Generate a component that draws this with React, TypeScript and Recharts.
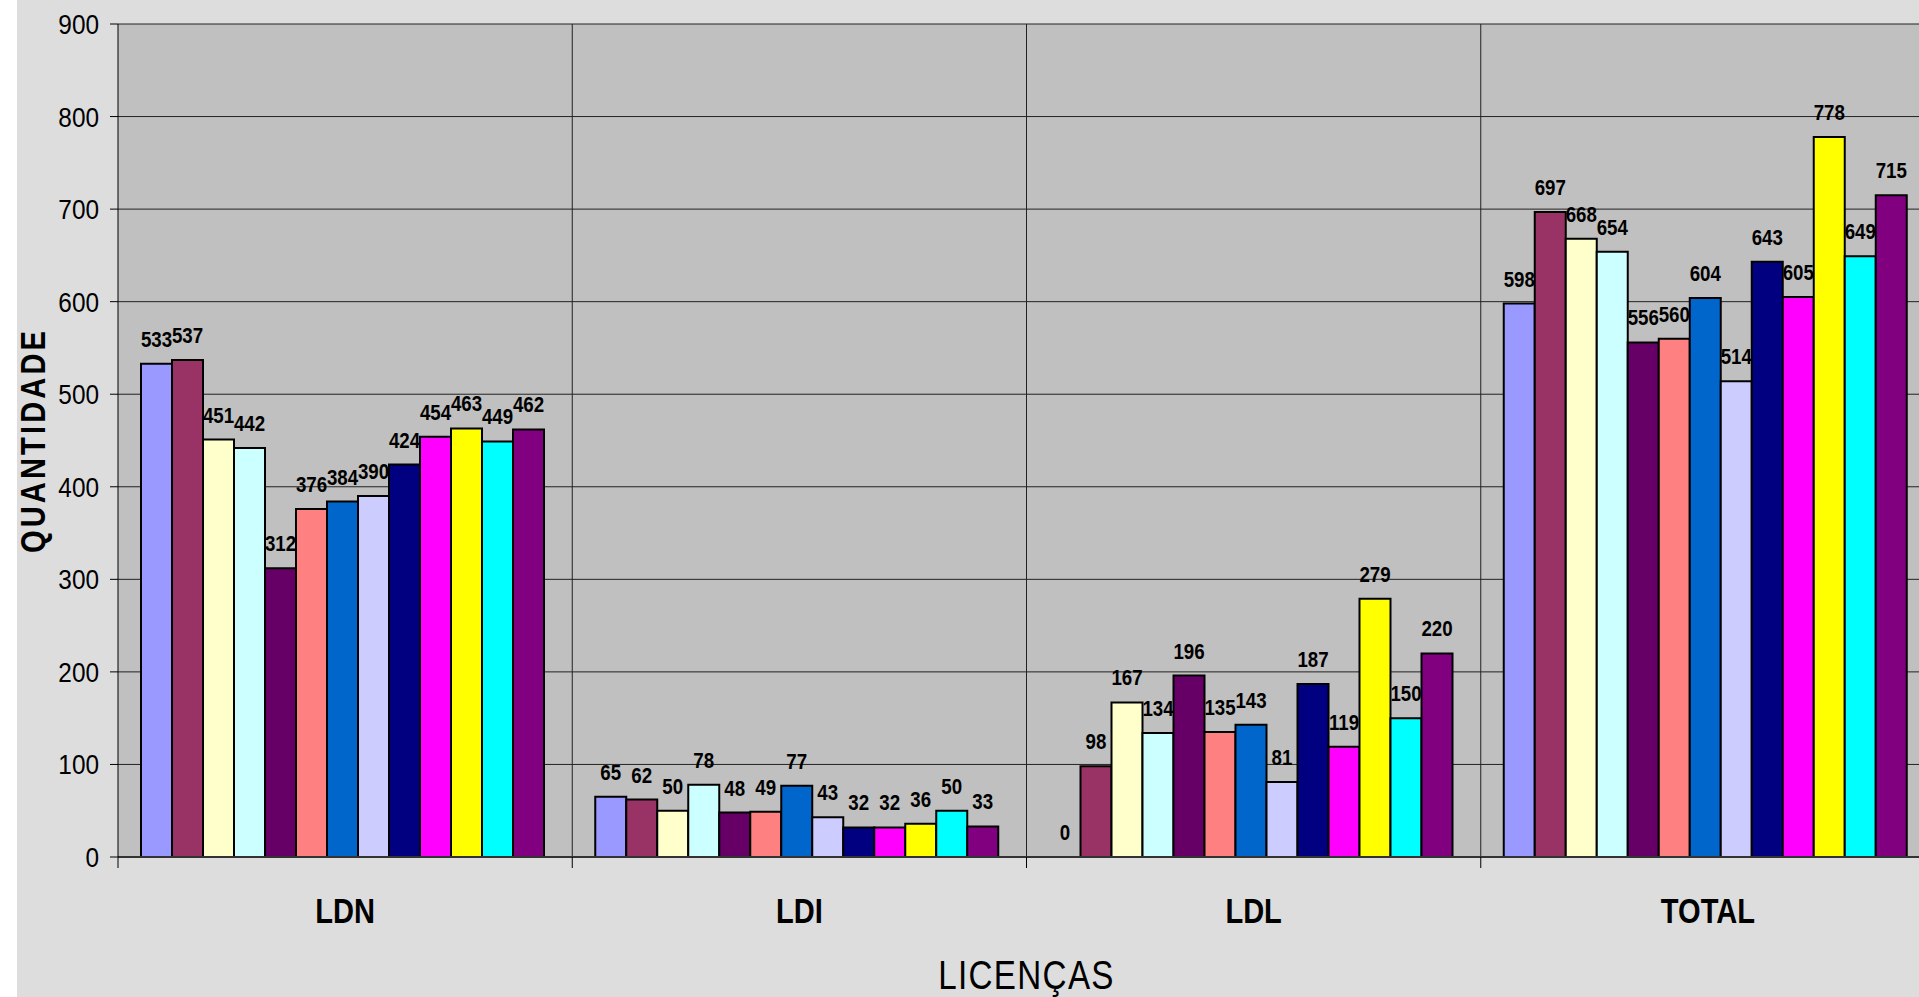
import { BarChart, Bar, XAxis, YAxis, CartesianGrid, LabelList } from "recharts";

// categories on the x axis
const categories = ["LDN", "LDI", "LDL", "TOTAL"];

// values per category, 13 series each (left to right)
const ldnValues = [533, 537, 451, 442, 312, 376, 384, 390, 424, 454, 463, 449, 462];
const ldiValues = [65, 62, 50, 78, 48, 49, 77, 43, 32, 32, 36, 50, 33];
const ldlValues = [0, 98, 167, 134, 196, 135, 143, 81, 187, 119, 279, 150, 220];
const totalValues = [598, 697, 668, 654, 556, 560, 604, 514, 643, 605, 778, 649, 715];

const yTicks = [0, 100, 200, 300, 400, 500, 600, 700, 800, 900];

// classic Excel palette
const seriesColors = [
  "#9999FF", "#993366", "#FFFFCC", "#CCFFFF", "#660066", "#FF8080", "#0066CC",
  "#CCCCFF", "#000080", "#FF00FF", "#FFFF00", "#00FFFF", "#800080",
];

const valuesByCategory = [ldnValues, ldiValues, ldlValues, totalValues];
const seriesKeys = seriesColors.map((_, i) => `s${i + 1}`);

const chartData = categories.map((name, ci) => {
  const row: Record<string, string | number> = { name };
  seriesKeys.forEach((key, si) => {
    row[key] = valuesByCategory[ci][si];
  });
  return row;
});

const font = "'Liberation Sans', Arial, sans-serif";

// Arial Narrow look: squeeze Liberation Sans horizontally
function NarrowText({ x, y, anchor = "middle", size, bold = false, spacing = 0, squeeze = 0.83, rotate = 0, children }: any) {
  return (
    <text
      transform={`translate(${x} ${y}) rotate(${rotate}) scale(${squeeze} 1)`}
      x={0}
      y={0}
      textAnchor={anchor}
      fontFamily={font}
      fontSize={size}
      fontWeight={bold ? "bold" : "normal"}
      letterSpacing={spacing}
      fill="#000"
    >
      {children}
    </text>
  );
}

function CategoryTick(props: any) {
  const { x, y, payload } = props;
  const half = payload?.offset ?? 0;
  return (
    <g>
      <line x1={x - half} y1={y - 11} x2={x - half} y2={y} stroke="#000" strokeWidth={1} />
      <NarrowText x={x} y={y + 55} size={35} bold>
        {payload.value}
      </NarrowText>
    </g>
  );
}

function ValueTick(props: any) {
  const { x, y, payload } = props;
  return (
    <NarrowText x={x} y={y + 10} anchor="end" size={28} squeeze={0.87}>
      {payload.value}
    </NarrowText>
  );
}

function BarValue(props: any) {
  const { x, y, width, value } = props;
  if (x == null || y == null) return null;
  return (
    <NarrowText x={x + width / 2} y={y - 17} size={22} bold squeeze={0.85}>
      {String(value)}
    </NarrowText>
  );
}

function XTitle(props: any) {
  const vb = props.viewBox || {};
  return (
    <NarrowText x={vb.x + vb.width / 2} y={vb.y + 132} size={40} spacing={1.6}>
      LICENÇAS
    </NarrowText>
  );
}

function YTitle(props: any) {
  const vb = props.viewBox || {};
  return (
    <NarrowText x={28} y={vb.y + vb.height / 2} size={35} bold spacing={3.8} rotate={-90}>
      QUANTIDADE
    </NarrowText>
  );
}

// zero values still get a (practically invisible) rect so their label is drawn
const keepZero = (value: any) => (Number(value) === 0 ? 0.001 : 0);

export default function App() {
  return (
    <div style={{ position: "fixed", left: 0, top: 0, width: 1919, height: 997, overflow: "hidden", background: "#fff" }}>
      <div style={{ position: "absolute", left: 17, top: 0, width: 1938, height: 997, background: "#DDDDDD" }}>
        <BarChart
          width={1938}
          height={997}
          data={chartData}
          margin={{ top: 24, right: 20, left: 0, bottom: 0 }}
          barCategoryGap={23}
          barGap={0}
        >
          <CartesianGrid
            fill="#C0C0C0"
            stroke="#222"
            strokeWidth={1}
            verticalCoordinatesGenerator={({ offset }: any) =>
              [1, 2, 3].map((i) => offset.left + (i * offset.width) / categories.length)
            }
          />
          <XAxis
            dataKey="name"
            height={140}
            tickSize={11}
            tickMargin={0}
            tickLine={false}
            axisLine={{ stroke: "#333", strokeWidth: 2 }}
            tick={<CategoryTick />}
            interval={0}
            label={{ content: <XTitle /> }}
          />
          <YAxis
            width={101}
            domain={[0, 900]}
            ticks={yTicks}
            interval={0}
            tickSize={8}
            tickMargin={11}
            axisLine={{ stroke: "#000", strokeWidth: 1 }}
            tickLine={{ stroke: "#000" }}
            tick={<ValueTick />}
            label={{ content: <YTitle /> }}
          />
          {seriesKeys.map((key, i) => (
            <Bar
              key={key}
              dataKey={key}
              name={`Série ${i + 1}`}
              fill={seriesColors[i]}
              stroke="#000"
              strokeWidth={2}
              minPointSize={keepZero}
              isAnimationActive={false}
            >
              <LabelList dataKey={key} position="top" formatter={(v: any) => String(v)} content={<BarValue />} />
            </Bar>
          ))}
        </BarChart>
      </div>
    </div>
  );
}
